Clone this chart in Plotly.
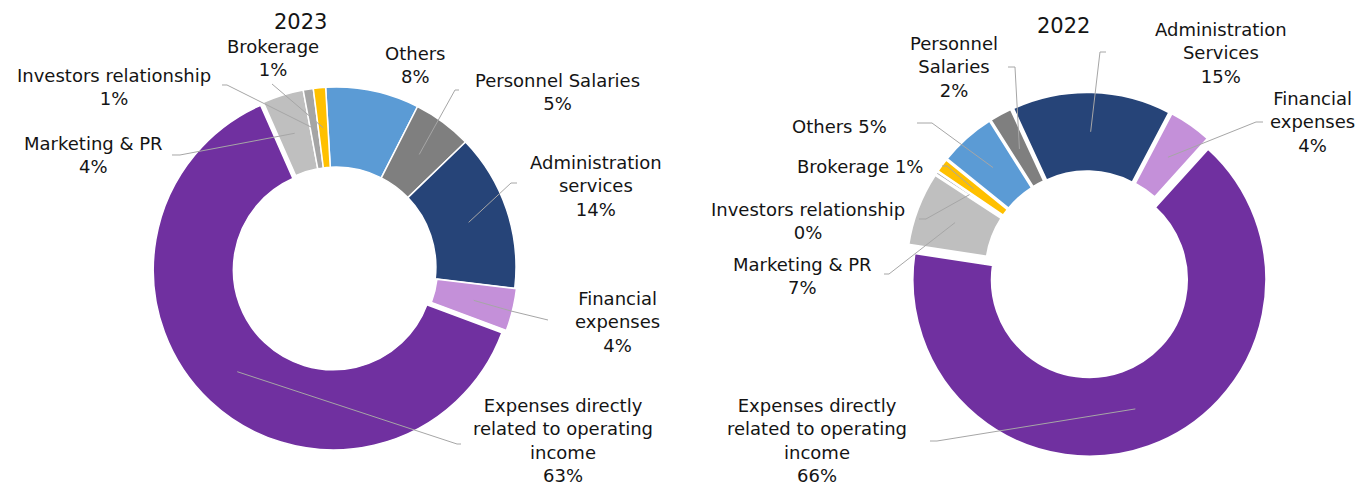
import math
import plotly.graph_objects as go

W, H = 1360, 488

# ---------------- data ----------------
labels_2023 = ["Others", "Personnel Salaries", "Administration services", "Financial expenses",
               "Expenses directly related to operating income", "Marketing & PR",
               "Investors relationship", "Brokerage"]
values_2023 = [8.4, 5.3, 14.1, 3.8, 62.7, 3.7, 0.9, 1.1]

labels_2022 = ["Administration Services", "Financial expenses",
               "Expenses directly related to operating income", "Marketing & PR",
               "Investors relationship", "Brokerage", "Others", "Personnel Salaries"]
values_2022 = [14.6, 4.0, 65.7, 6.8, 0.3, 1.3, 5.2, 2.1]

titles = ["2023", "2022"]

# ---------------- styles ----------------
color_map = {
    "Others": "#5B9BD5",
    "Personnel Salaries": "#7F7F7F",
    "Administration services": "#264478",
    "Administration Services": "#264478",
    "Financial expenses": "#C490D9",
    "Expenses directly related to operating income": "#7030A0",
    "Marketing & PR": "#BFBFBF",
    "Investors relationship": "#A5A5A5",
    "Brokerage": "#FFC000",
}

FONT = "DejaVu Sans"
TXT = "#141414"
LINE = "#A6A6A6"
LAB_SIZE = 18
TITLE_SIZE = 21

# text templates (layout of label text)
tmpl_2023 = {
    "Others": "Others<br>{p}",
    "Personnel Salaries": "Personnel Salaries<br>{p}",
    "Administration services": "Administration<br>services<br>{p}",
    "Financial expenses": "Financial<br>expenses<br>{p}",
    "Expenses directly related to operating income": "Expenses directly<br>related to operating<br>income<br>{p}",
    "Marketing & PR": "Marketing & PR<br>{p}",
    "Investors relationship": "Investors relationship<br>{p}",
    "Brokerage": "Brokerage<br>{p}",
}
tmpl_2022 = {
    "Administration Services": "Administration<br>Services<br>{p}",
    "Financial expenses": "Financial<br>expenses<br>{p}",
    "Expenses directly related to operating income": "Expenses directly<br>related to operating<br>income<br>{p}",
    "Marketing & PR": "Marketing & PR<br>{p}",
    "Investors relationship": "Investors relationship<br>{p}",
    "Brokerage": "Brokerage {p}",
    "Others": "Others {p}",
    "Personnel Salaries": "Personnel<br>Salaries<br>{p}",
}

# label positions (pixel centres) and leader-line elbows (pixels)
pos_2023 = {
    "Others": (415, 64.5),
    "Personnel Salaries": (557, 92.5),
    "Administration services": (596, 186),
    "Financial expenses": (617, 321.5),
    "Expenses directly related to operating income": (563, 440),
    "Marketing & PR": (93, 155.5),
    "Investors relationship": (114, 87),
    "Brokerage": (273, 58.5),
}
elbow_2023 = {
    "Others": None,
    "Personnel Salaries": [(459, 90), (455, 90)],
    "Administration services": [(517, 183), (511, 183)],
    "Financial expenses": [(548, 320), (511, 311)],
    "Expenses directly related to operating income": [(461, 444), (457, 444)],
    "Marketing & PR": [(172, 155), (180, 155)],
    "Investors relationship": [(222, 85), (227, 85)],
    "Brokerage": [(272, 84)],
}
pos_2022 = {
    "Administration Services": (1221, 53.5),
    "Financial expenses": (1312, 122),
    "Expenses directly related to operating income": (817, 440),
    "Marketing & PR": (802, 276),
    "Investors relationship": (808, 221),
    "Brokerage": (860, 167),
    "Others": (839, 126),
    "Personnel Salaries": (954, 67.5),
}
elbow_2022 = {
    "Administration Services": [(1106, 52), (1100, 52)],
    "Financial expenses": [(1263, 122), (1256, 122)],
    "Expenses directly related to operating income": [(930, 441), (937, 441)],
    "Marketing & PR": [(884, 274), (889, 274)],
    "Investors relationship": [(919, 219), (926, 219)],
    "Brokerage": [(942, 166), (947, 166)],
    "Others": [(917, 123), (932, 123)],
    "Personnel Salaries": [(1008, 67), (1015, 67)],
}

charts = [
    dict(labels=labels_2023, values=values_2023, cx=336, cy=267, R=180, hole=0.555,
         rotation=-3.3, line_w=1.5,
         pull={"Expenses directly related to operating income": 0.022, "Financial expenses": 0.01},
         base_pull=0.0, tmpl=tmpl_2023, pos=pos_2023, elbow=elbow_2023,
         title_pos=(300, 22)),
    dict(labels=labels_2022, values=values_2022, cx=1087, cy=273, R=177, hole=0.55,
         rotation=-24.8, line_w=2.5,
         pull={"Expenses directly related to operating income": 0.04},
         base_pull=0.023, tmpl=tmpl_2022, pos=pos_2022, elbow=elbow_2022,
         title_pos=(1063, 26)),
]


def px2paper(x, y):
    return x / W, 1 - y / H


fig = go.Figure()
shapes = []
annotations = []

for ci, c in enumerate(charts):
    pulls = [c["pull"].get(l, c["base_pull"]) for l in c["labels"]]
    maxp = max(pulls)
    s = c["R"] * (1 + maxp)
    x0, y1 = px2paper(c["cx"] - s, c["cy"] - s)
    x1, y0 = px2paper(c["cx"] + s, c["cy"] + s)
    fig.add_trace(go.Pie(
        labels=c["labels"], values=c["values"], sort=False, direction="clockwise",
        rotation=c["rotation"], hole=c["hole"], pull=pulls,
        marker=dict(colors=[color_map[l] for l in c["labels"]],
                    line=dict(color="white", width=c["line_w"])),
        textinfo="none", hoverinfo="label+percent", showlegend=False,
        domain=dict(x=[x0, x1], y=[y0, y1]),
    ))

    total = sum(c["values"])
    rm = c["R"] * (1 + c["hole"]) / 2
    cum = 0.0
    for lab, v, p in zip(c["labels"], c["values"], pulls):
        mid = c["rotation"] + (cum + v / 2) / total * 360
        cum += v
        th = math.radians(mid)
        rr = rm + p * c["R"]
        ax = c["cx"] + rr * math.sin(th)
        ay = c["cy"] - rr * math.cos(th)

        pct = f"{round(v)}%"
        tx, ty = c["pos"][lab]
        px_, py_ = px2paper(tx, ty)
        annotations.append(dict(
            x=px_, y=py_, xref="paper", yref="paper", xanchor="center", yanchor="middle",
            text=c["tmpl"][lab].format(p=pct), showarrow=False, align="center",
            font=dict(family=FONT, size=LAB_SIZE, color=TXT),
        ))
        el = c["elbow"][lab]
        if el:
            pts = el + [(ax, ay)]
            path = "M " + " L ".join(
                f"{px2paper(a, b)[0]:.5f},{px2paper(a, b)[1]:.5f}" for a, b in pts)
            shapes.append(dict(type="path", path=path, xref="paper", yref="paper",
                               line=dict(color=LINE, width=1)))

    tx, ty = c["title_pos"]
    px_, py_ = px2paper(tx, ty)
    annotations.append(dict(
        x=px_, y=py_, xref="paper", yref="paper", xanchor="center", yanchor="middle",
        text=titles[ci], showarrow=False,
        font=dict(family=FONT, size=TITLE_SIZE, color=TXT),
    ))

fig.update_layout(
    width=W, height=H, autosize=False,
    margin=dict(l=0, r=0, t=0, b=0),
    paper_bgcolor="white", plot_bgcolor="white",
    shapes=shapes, annotations=annotations,
    showlegend=False,
)

fig.write_html("out.html", config={"displayModeBar": False},
               post_script="document.body.style.margin='0';document.body.style.overflow='hidden';")
